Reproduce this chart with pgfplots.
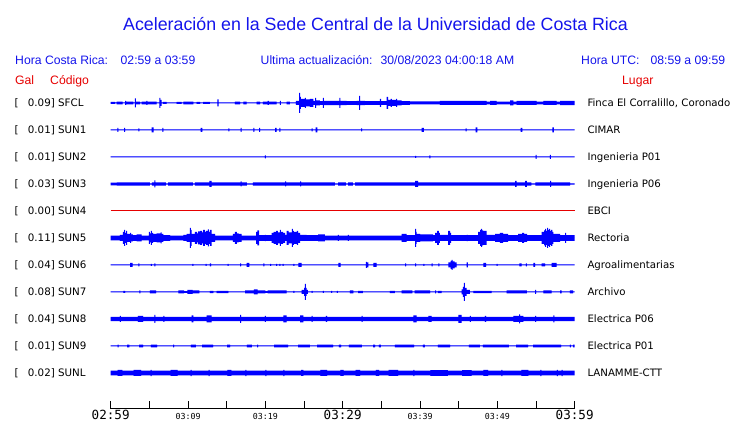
\documentclass[border=0pt]{standalone}
\usepackage{pgfplots}
\pgfplotsset{compat=1.18}
\usepackage{pgfplotstable}
\usepackage{fontspec}
\setmainfont{DejaVu Sans}
\newfontfamily\arial{Liberation Sans}
\newfontfamily\mono{DejaVu Sans Mono}
\definecolor{tblue}{RGB}{0,0,255}
\definecolor{ttitle}{RGB}{20,20,235}
\definecolor{tred}{RGB}{230,0,0}

% envelope tables: t = minutes after 02:59, a = half amplitude (px)
\pgfplotstableread{
t a
0 1.0
0.56 0.5
0.78 1.3
1.55 0.5
1.85 2
1.98 1.3
2.92 0.5
3.14 4.5
3.27 1.3
3.79 0.5
4.01 1.3
4.6 2
4.75 1.3
5.95 0.5
6.28 5
6.41 3
6.59 0.5
6.76 1
7.24 0.5
8.53 1
9.18 0.5
9.39 1.3
10.68 0.5
11.12 1
11.55 0.5
11.94 1
12.84 0.5
13.78 3.5
13.94 0.5
16.07 1.3
16.72 0.5
17.15 1.3
17.59 0.5
18.88 1.3
19.31 0.5
19.69 1.3
20.3 2
20.45 1.3
21.47 0.5
21.89 2
22.02 0.5
22.76 1.3
23.18 0.5
23.96 2
24.35 10
24.5 6
24.6 4
25.12 5
25.25 3.5
25.77 4
26.2 2
26.42 5
26.55 2.5
27.06 1.8
27.45 5
27.58 2.2
29.56 5
29.69 2.2
30.52 1.8
31.81 2.2
32.11 7
32.24 2.2
32.88 1.8
34.82 4
34.98 1.8
35.69 6
35.86 3
36.2 4
36.35 3
36.9 4
37.05 2.5
37.63 1.8
38.70 1.5
42.58 2
48.62 1.3
49.05 2
49.91 1.3
51.64 2.5
52.06 1.3
52.5 2
55.09 1.3
55.94 2
57.67 1.3
58.1 2.1
60 2.1
}\tSFCL

\pgfplotstableread{
t a
0 0.5
0.85 2
0.98 0.5
1.72 2
1.85 0.5
3.57 1.5
3.70 0.5
5.30 2.5
5.56 0.5
6.67 2
6.80 0.5
11.64 2
11.85 0.5
15.21 1.5
15.34 0.5
16.81 2
16.94 0.5
18.44 2
18.57 0.5
19.18 2
19.31 0.5
21.25 2
21.47 0.5
21.80 2
21.93 0.5
25.99 1.5
26.12 0.5
26.51 2.5
26.72 0.5
32.37 1.5
32.50 0.5
40.22 2
40.51 0.5
45.91 1.5
46.04 0.5
47.20 2.5
47.40 0.5
53.02 2
53.23 0.5
57.10 2.5
57.30 0.5
60 0.5
}\tSUNa

\pgfplotstableread{
t a
0 0.5
19.95 1.5
20.08 0.5
39.35 1
39.48 0.5
41.2 1.5
41.33 0.5
54.96 2
55.09 0.5
56.8 2
56.93 0.5
60 0.5
}\tSUNb

\pgfplotstableread{
t a
0 1.3
0.8 1.7
5.08 0.6
5.34 1.7
5.64 3.5
5.77 1.7
7.15 0.6
7.41 1.7
10.64 0.6
10.90 1.7
12.75 3
13.06 1.7
16.81 2.5
16.94 1.7
17.62 0.6
18.40 1.7
22.54 2.5
22.67 1.7
24.48 2.5
24.61 1.7
29.0 0.6
29.4 1.7
30.4 0.6
30.7 1.7
31.3 0.6
31.6 1.7
39.35 3
39.74 1.7
52.28 3
52.50 1.7
53.58 3
53.80 1.7
54.4 0.6
54.9 1.7
56.81 3
56.94 1.7
59.4 0.6
60 0.6
}\tSUNc

\pgfplotstableread{
t a
0 2.4
1.20 3
1.59 6
1.72 8
1.85 5
1.98 7
2.11 4
2.50 5
2.63 3.5
2.88 2.8
3.36 3.5
4.01 2.4
4.95 6
5.08 4.5
5.21 7
5.34 5
5.47 4
5.95 4.5
6.47 5.5
6.59 4
6.80 2.8
7.67 2.4
9.39 3
9.83 4
10.25 10
10.38 8
10.47 4
10.90 6
11.16 4.5
11.29 6.5
11.55 7
11.81 5.5
11.94 8
12.19 6
12.32 7
12.58 8.5
12.71 6
12.84 8
13.06 4
13.49 2.4
15.81 4
16.07 6
16.33 4.5
16.53 4
16.94 2.4
18.79 6
18.98 7.5
19.18 2.8
19.95 3.2
20.08 2.8
20.82 5
21.08 6
21.38 7
21.63 5.5
21.89 8
22.02 6
22.28 5
22.54 3
22.76 7
23.02 5.5
23.44 9
23.57 7
23.70 6
24.09 7
24.22 5
24.48 3
25.34 2.8
26.81 3.5
27.71 2.4
29.39 3
29.52 2.4
30.68 3
30.81 2.4
37.63 4
38.28 2.8
39.35 9
39.48 6
39.57 4
40.00 3.5
41.68 2.8
41.94 5
42.20 7
42.45 5
42.58 3
43.62 7
43.88 5
44.01 2.8
46.04 3.2
46.20 2.8
47.50 6
47.76 8
47.89 9
48.02 7.5
48.15 7
48.62 3
49.70 4
50.34 5
50.73 4
51.38 2.8
52.67 4
53.19 5
53.45 4
53.84 2.8
55.73 6
56.03 7.5
56.16 9
56.29 7
56.42 10
56.55 8
56.68 9
56.81 7
56.94 8
57.10 6
57.23 4
58.10 2.8
58.75 5
58.88 2.8
60 2.8
}\tSUNe

\pgfplotstableread{
t a
0 0.5
2.50 2
2.84 0.5
3.57 1.5
3.70 0.5
5.21 1
5.34 0.5
5.64 1.5
5.77 0.5
10.55 1
10.68 0.5
12.28 1
12.41 0.5
12.84 1.5
12.97 0.5
15.13 1
15.26 0.5
16.72 1.5
16.85 0.5
17.59 2
17.92 0.5
19.73 1.5
19.86 0.5
20.60 1
20.73 0.5
21.38 1
21.51 0.5
21.80 1
21.93 0.5
22.24 1
22.37 0.5
23.61 1
23.74 0.5
24.26 2
24.70 0.5
29.43 2
29.74 0.5
33.01 3
33.14 2.5
33.31 0.5
33.96 2
34.40 0.5
38.06 1.5
38.19 0.5
39.35 1.5
39.48 0.5
40.42 1
40.55 0.5
41.51 1.5
41.64 0.5
42.36 1.5
42.49 0.5
43.65 2.5
43.96 4
44.09 5
44.22 3.5
44.48 2.5
44.74 0.5
46.04 2.5
46.17 0.5
48.18 2
48.53 0.5
49.91 1
50.04 0.5
52.84 1.5
53.15 0.5
53.70 1.5
53.83 0.5
54.65 2
54.87 0.5
55.73 1.5
56.16 0.5
57.03 2
57.67 0.5
60 0.5
}\tSUNf

\pgfplotstableread{
t a
0 0.5
1.63 1
1.85 0.5
3.70 1.5
3.83 0.5
5.08 1.5
5.86 0.5
8.74 1.5
9.5 0.8
9.9 2
10.6 1.5
11.46 0.5
12.84 1.2
13.27 0.5
13.71 1.2
15.21 0.5
17.37 1.5
18.5 2.5
19.0 1.5
20.0 0.8
20.3 1.5
22.76 0.5
23.61 1
23.74 0.5
24.70 2
25.0 4
25.12 8
25.25 4
25.34 2
25.51 0.5
25.99 1
26.12 0.5
27.45 1
27.58 0.5
28.49 1
28.62 0.5
29.26 1
29.39 0.5
30.94 1.5
31.37 0.5
31.98 1.2
32.62 0.5
36.11 1.2
36.76 0.5
37.63 1.5
39.0 0.5
39.3 1.5
41.29 0.5
41.94 1.5
42.07 0.5
42.32 1.2
42.80 0.5
45.39 2.5
45.55 5
45.68 9
45.81 4
46.04 2
46.46 0.5
46.89 1.2
49.27 0.5
51.21 1.5
53.80 0.5
54.87 2
55.0 0.5
55.94 1.5
57.03 0.5
58.10 1.5
58.32 0.5
59.39 1.5
59.78 0.5
60 0.5
}\tSUNg

\pgfplotstableread{
t a
0 2.2
1.20 3
1.33 2.2
3.53 3
4.18 2.2
5.64 4
5.77 2.2
6.80 3
6.93 2.2
10.47 3.5
10.68 2.2
12.41 3.5
13.06 2.2
16.72 4
16.85 2.2
19.95 3
20.08 2.2
22.32 3.5
22.76 2.2
24.48 3.5
24.91 2.2
25.99 3
26.12 2.2
27.84 3
27.97 2.2
32.46 3
32.59 2.2
39.13 3.5
39.57 2.2
41.07 3
41.51 2.2
44.95 4
45.39 2.2
46.46 3
46.59 2.2
48.40 3
48.53 2.2
52.06 3
52.80 4.5
52.93 3
53.35 2.2
54.87 3
55.0 2.2
57.23 3.5
57.36 2.2
60 2.2
}\tSUNh

\pgfplotstableread{
t a
0 0.5
0.88 1.3
1.01 0.5
2.11 1.3
2.43 0.5
3.66 1.3
4.18 0.5
5.21 1.3
5.99 0.5
8.06 1.3
8.19 0.5
10.38 1.3
11.03 0.5
11.81 1.3
13.23 0.5
15.04 1.3
15.43 0.5
17.62 1.3
18.27 0.5
18.92 1.3
19.05 0.5
21.12 1.3
22.93 0.5
24.22 1.3
25.77 0.5
26.68 1.3
28.75 0.5
29.52 1.3
29.78 0.5
30.81 1.3
32.49 0.5
33.92 1.3
34.18 0.5
34.69 1.3
34.95 0.5
36.76 1.3
39.22 0.5
40.38 1.3
40.64 0.5
42.32 1.3
43.88 0.5
46.33 1.3
47.75 0.5
48.14 1.3
51.50 0.5
52.41 1.3
53.97 0.5
54.61 1.3
58.23 0.5
59.39 1.3
59.52 0.5
59.78 1.3
60 1.3
}\tSUNi

\pgfplotstableread{
t a
0 2.4
0.88 3
1.50 2.4
2.96 3
3.94 2.4
5.17 3.2
5.30 2.4
7.75 3
8.66 2.4
10.32 3.2
10.45 2.4
12.65 3.2
12.78 2.4
15.10 3
15.60 2.4
17.43 3.2
17.56 2.4
20.00 3.2
20.13 2.4
22.33 3.2
22.46 2.4
24.61 3
24.91 2.4
27.12 3
27.97 2.4
29.69 3
30.12 2.4
31.66 3
32.26 2.4
34.28 3
34.71 2.4
35.94 3
37.16 2.4
39.13 3.2
39.26 2.4
41.33 2.9
43.60 2.4
45.44 2.9
46.67 2.4
48.19 3
48.81 2.4
50.52 3.2
50.65 2.4
53.09 3
54.01 2.4
55.55 3.2
55.68 2.4
57.70 3.2
57.83 2.4
58.31 3.2
58.44 2.4
60 2.4
}\tSUNl

% one small axis per trace, 27 px high; #2 = bottom edge of that strip (pt)
\newcommand{\traceaxis}[2]{%
\begin{axis}[scale only axis, width=464pt, height=27pt,
  at={(110.7pt,#2pt)}, anchor=south west,
  xmin=0, xmax=60, ymin=-13.5, ymax=13.5, hide axis, clip=false]
\addplot[fill=tblue, draw=none, const plot] table[x=t, y=a] {#1} \closedcycle;
\addplot[fill=tblue, draw=none, const plot] table[x=t, y expr=-\thisrow{a}] {#1} \closedcycle;
\end{axis}}

\newcommand{\lbl}[3]{% y baseline px, left text, right text
  \node[anchor=base west, inner sep=0pt, font=\fontsize{10.3}{12}\selectfont] at (14.3, {423-#1-3.8}) {[};
  \node[anchor=base west, inner sep=0pt, font=\fontsize{10.3}{12}\selectfont] at (27.7, {423-#1-3.8}) {#2};
  \node[anchor=base west, inner sep=0pt, font=\fontsize{10.2}{12}\selectfont] at (587.3, {423-#1-3.8}) {#3};
}

\begin{document}
\begin{tikzpicture}[x=1pt,y=1pt]
\path[use as bounding box] (0,0) rectangle (740,423);

\traceaxis{\tSFCL}{306.5}
\traceaxis{\tSUNa}{279.5}
\traceaxis{\tSUNb}{252.5}
\traceaxis{\tSUNc}{225.5}
\begin{axis}[scale only axis, width=464pt, height=27pt,
  at={(110.7pt,198.5pt)}, anchor=south west,
  xmin=0, xmax=60, ymin=-13.5, ymax=13.5, hide axis, clip=false]
\addplot[tred, line width=1pt] coordinates {(0,0) (60,0)};
\end{axis}
\traceaxis{\tSUNe}{171.5}
\traceaxis{\tSUNf}{144.5}
\traceaxis{\tSUNg}{117.5}
\traceaxis{\tSUNh}{90.5}
\traceaxis{\tSUNi}{63.5}
\traceaxis{\tSUNl}{36.5}

% time axis
\begin{axis}[
  scale only axis, width=464pt, height=20pt,
  at={(110.7pt,14.3pt)}, anchor=south west,
  xmin=0, xmax=60, ymin=0, ymax=1,
  axis x line=bottom, axis y line=none,
  axis line style={-, line width=1pt, black},
  xtick={0,5,...,60},
  xticklabels={{\fontsize{12.6}{13}\selectfont 02:59},{},{03:09},{},{03:19},{},{\fontsize{12.6}{13}\selectfont 03:29},{},{03:39},{},{03:49},{},{\fontsize{12.6}{13}\selectfont 03:59}},
  tick align=inside,
  major tick length=8pt,
  xtick style={black, line width=1pt},
  xticklabel style={anchor=base, yshift=-11pt, inner sep=0pt, font=\mono\fontsize{8.3}{9}\selectfont},
  clip=false,
]
\addplot[draw=none] coordinates {(0,0) (60,0)};
\end{axis}

\node[anchor=base, inner sep=0pt, text=ttitle, font=\arial\fontsize{17.8}{20}\selectfont] at (375.5,392.5) {Aceleración en la Sede Central de la Universidad de Costa Rica};

\begin{scope}[every node/.style={anchor=base west, inner sep=0pt, text=ttitle, font=\arial\fontsize{12.2}{14}\selectfont}]
\node at (15,358) {Hora Costa Rica:};
\node at (120.5,358) {02:59 a 03:59};
\node at (260.5,358) {Ultima actualización:};
\node at (380.4,358) {30/08/2023 04:00:18 AM};
\node at (581,358) {Hora UTC:};
\node[anchor=base east] at (725.4,358) {08:59 a 09:59};
\end{scope}
\begin{scope}[every node/.style={anchor=base west, inner sep=0pt, text=tred, font=\arial\fontsize{12.2}{14}\selectfont}]
\node at (15,338.5) {Gal};
\node at (50,338.5) {Código};
\node at (622,338.5) {Lugar};
\end{scope}

\lbl{103}{0.09] SFCL}{Finca El Corralillo, Coronado}
\lbl{130}{0.01] SUN1}{CIMAR}
\lbl{157}{0.01] SUN2}{Ingenieria P01}
\lbl{184}{0.03] SUN3}{Ingenieria P06}
\lbl{211}{0.00] SUN4}{EBCI}
\lbl{238}{0.11] SUN5}{Rectoria}
\lbl{265}{0.04] SUN6}{Agroalimentarias}
\lbl{292}{0.08] SUN7}{Archivo}
\lbl{319}{0.04] SUN8}{Electrica P06}
\lbl{346}{0.01] SUN9}{Electrica P01}
\lbl{373}{0.02] SUNL}{LANAMME-CTT}
\end{tikzpicture}
\end{document}
